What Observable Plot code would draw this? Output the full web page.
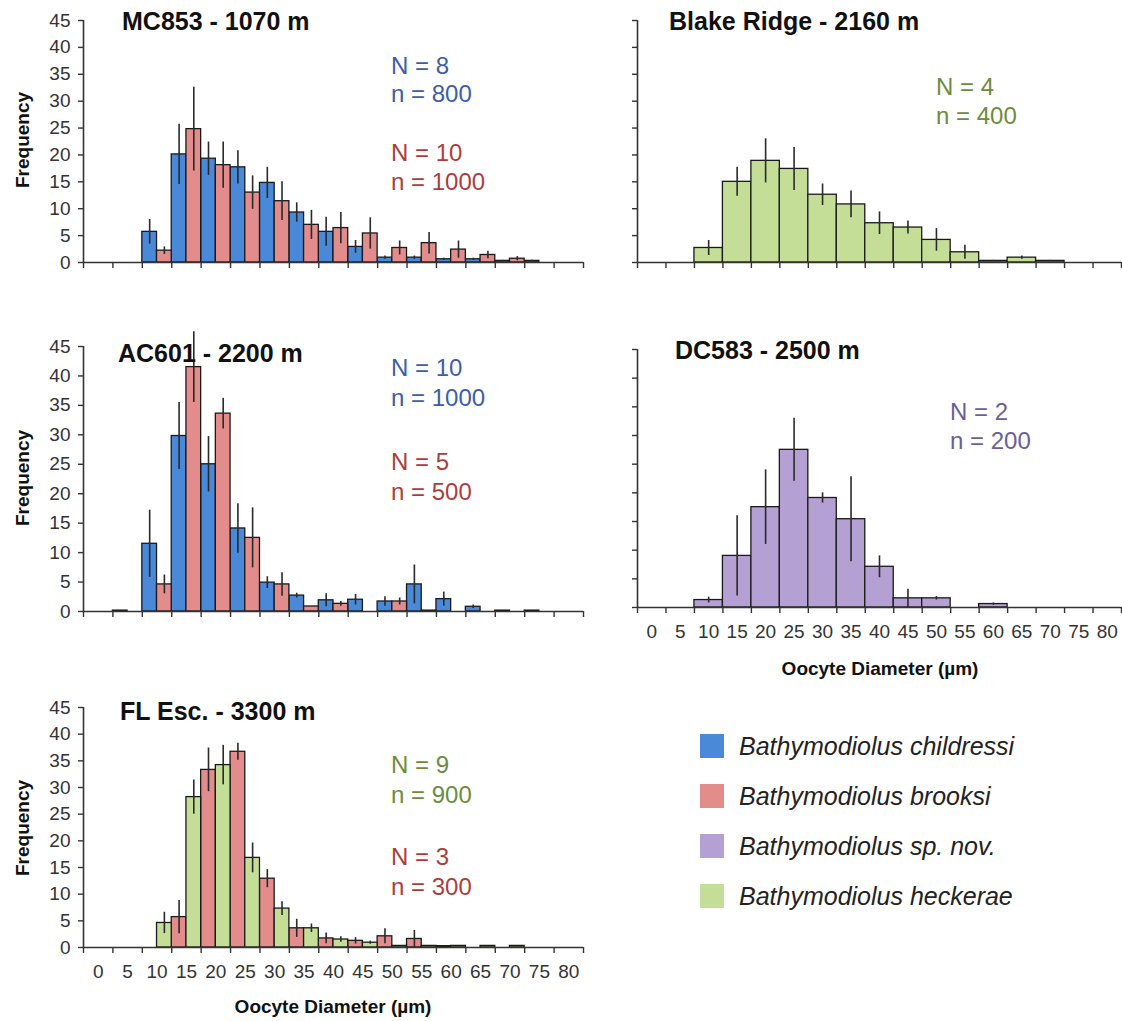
<!DOCTYPE html>
<html><head><meta charset="utf-8">
<script src="https://cdn.jsdelivr.net/npm/d3@7"></script>
<script src="https://cdn.jsdelivr.net/npm/@observablehq/plot@0.6"></script>
<style>
body{margin:0;background:#fff;font-family:Arial,"Liberation Sans",sans-serif;}
#root{position:relative;width:1122px;height:1021px;overflow:hidden;background:#fff;}
.abs{position:absolute;white-space:nowrap;line-height:1;}
.title{font-weight:bold;font-size:25px;color:#111;transform:translateY(-50%);}
.nlab{font-size:24px;transform:translateY(-50%);}
.freq{font-weight:bold;font-size:19px;color:#111;transform:translate(-50%,-50%) rotate(-90deg);}
.xtitle{font-weight:bold;font-size:19px;color:#111;transform:translate(-50%,-50%);}
.leg{font-style:italic;font-size:25px;color:#222;transform:translateY(-50%);}
.sw{position:absolute;width:24px;height:24px;transform:translateY(-50%);}
.panel{position:absolute;}
</style></head><body><div id="root"></div>
<script>
// ---- data ----
const categories = [0,5,10,15,20,25,30,35,40,45,50,55,60,65,70,75,80];
const yTicks = [0,5,10,15,20,25,30,35,40,45];

const mc853_childressi     = [0,0,5.7,20.1,19.3,17.7,14.8,9.3,5.7,2.9,0.9,0.9,0.6,0.6,0.3,0.3,0];
const mc853_childressi_err = [0,0,2.3,5.6,3.1,3.1,2.9,1.8,2.7,1.2,0.3,0.3,0.2,0.2,0.1,0.1,0];
const mc853_brooksi        = [0,0,2.2,24.8,18.1,13.0,11.4,7.0,6.4,5.4,2.7,3.6,2.4,1.4,0.7,0,0];
const mc853_brooksi_err    = [0,0,0.7,7.8,4.3,3.1,3.6,2.7,2.9,2.9,1.3,2.0,1.6,0.7,0.4,0,0];

const blake_heckerae       = [0,0,2.7,15.0,18.9,17.4,12.6,10.8,7.3,6.5,4.2,1.9,0.3,0.9,0.3,0,0];
const blake_heckerae_err   = [0,0,1.4,2.7,4.1,4.0,2.0,2.5,2.1,1.2,2.1,1.3,0.1,0.3,0.1,0,0];

const ac601_childressi     = [0,0.15,11.5,29.8,25.0,14.1,4.9,2.7,1.9,2.0,1.7,4.6,2.1,0.8,0.15,0.15,0];
const ac601_childressi_err = [0,0,5.7,5.7,4.7,4.2,1.0,0.4,1.1,0.9,0.8,3.3,1.2,0.3,0,0,0];
const ac601_brooksi        = [0,0,4.6,41.5,33.6,12.5,4.6,0.85,1.3,0,1.7,0.15,0,0,0,0,0];
const ac601_brooksi_err    = [0,0,1.6,6.0,2.6,5.1,2.0,0,0.4,0,0.6,0,0,0,0,0,0];

const dc583_spnov          = [0,0,1.3,9.0,17.5,27.5,19.1,15.4,7.1,1.6,1.6,0,0.6,0,0,0,0];
const dc583_spnov_err      = [0,0,0.5,7.0,6.5,5.5,0.9,7.4,1.9,1.6,0.3,0,0.2,0,0,0,0];

const fl_brooksi           = [0,0,0,5.7,33.3,36.7,12.9,3.6,1.7,1.25,2.1,1.6,0.25,0,0,0,0];
const fl_brooksi_err       = [0,0,0,3.1,4.1,1.6,1.7,1.7,1.0,0.6,1.4,1.6,0,0,0,0,0];
const fl_heckerae          = [0,0,4.6,28.2,34.2,16.8,7.3,3.6,1.5,0.9,0.3,0.3,0.3,0.3,0.3,0,0];
const fl_heckerae_err      = [0,0,2.0,3.2,3.7,2.8,1.3,0.8,0.5,0.3,0,0,0,0,0,0,0];

const speciesNames = ["Bathymodiolus childressi","Bathymodiolus brooksi","Bathymodiolus sp. nov.","Bathymodiolus heckerae"];
const speciesColors = ["#4a88d8","#e28c8c","#b4a0d2","#c4de98"];
const xTitle = "Oocyte Diameter (µm)";
const yTitle = "Frequency";

// ---- drawing ----
const root = document.getElementById("root");

function panel(o) {
  const marks = [];
  o.series.forEach(s => {
    const rows = [];
    categories.forEach((c, i) => {
      const v = s.values[i];
      if (v > 0) {
        const x1 = s.half === "right" ? c : c - 2.5;
        const x2 = s.half === "left" ? c : c + 2.5;
        rows.push({c, v, e: s.errors[i], x1, x2});
      }
    });
    marks.push(Plot.rectY(rows, {x1: "x1", x2: "x2", y1: () => 0, y2: "v", fill: s.color, stroke: "#1a1a1a", strokeWidth: 1.3}));
    marks.push(Plot.ruleX(rows.filter(d => d.e > 0), {x: d => (d.x1 + d.x2) / 2, y1: d => d.v - d.e, y2: d => d.v + d.e, stroke: "#2a2a2a", strokeWidth: 1.6}));
  });
  const bounds = categories.map(c => c - 2.5).concat([categories[categories.length - 1] + 2.5]);
  marks.push(Plot.ruleY([0], {stroke: "#333", strokeWidth: 1.6}));
  marks.push(Plot.ruleX([bounds[0]], {y1: 0, y2: 45, stroke: "#333", strokeWidth: 1.6}));
  marks.push(Plot.axisY({ticks: yTicks, label: null, tickSize: 5, tickPadding: 8, tickFormat: o.yLabels ? (d => d) : (() => ""), fontSize: 19, fill: "#333", stroke: "#333", strokeWidth: 1.4}));
  marks.push(Plot.axisX({ticks: bounds, label: null, tickSize: 6, tickFormat: () => "", stroke: "#333", strokeWidth: 1.4}));
  if (o.xLabels) marks.push(Plot.axisX({ticks: categories, label: null, tickSize: 0, tickPadding: 17, fontSize: 19, fill: "#333"}));
  const marginTop = o.y45 - o.top;
  const svg = Plot.plot({
    width: o.width, height: (o.y0 - o.top) + o.mBottom,
    marginLeft: o.mLeft, marginRight: o.mRight, marginTop, marginBottom: o.mBottom,
    x: {domain: [bounds[0], bounds[bounds.length - 1]], axis: null, label: null},
    y: {domain: [0, 45], axis: null, label: null},
    style: {background: "transparent", fontFamily: "Arial, 'Liberation Sans', sans-serif", color: "#333", overflow: "visible"},
    marks
  });
  const d = document.createElement("div");
  d.className = "panel";
  d.style.left = o.left + "px"; d.style.top = o.top + "px";
  d.appendChild(svg);
  root.appendChild(d);
}

function text(x, y, str, cls, color) {
  const d = document.createElement("div");
  d.className = "abs " + cls;
  d.style.left = x + "px"; d.style.top = y + "px";
  if (color) d.style.color = color;
  d.textContent = str;
  root.appendChild(d);
}

const L = {left: 0, width: 600, mLeft: 83, mRight: 17};
const R = {left: 580, width: 542, mLeft: 57, mRight: 1};

panel({...L, top: 0, y45: 20, y0: 262, mBottom: 12, yLabels: true, xLabels: false, series: [
  {values: mc853_childressi, errors: mc853_childressi_err, color: speciesColors[0], half: "left"},
  {values: mc853_brooksi, errors: mc853_brooksi_err, color: speciesColors[1], half: "right"}]});
panel({...R, top: 0, y45: 20, y0: 262, mBottom: 12, yLabels: false, xLabels: false, series: [
  {values: blake_heckerae, errors: blake_heckerae_err, color: speciesColors[3], half: "full"}]});
panel({...L, top: 320, y45: 346, y0: 611, mBottom: 12, yLabels: true, xLabels: false, series: [
  {values: ac601_childressi, errors: ac601_childressi_err, color: speciesColors[0], half: "left"},
  {values: ac601_brooksi, errors: ac601_brooksi_err, color: speciesColors[1], half: "right"}]});
panel({...R, top: 320, y45: 349, y0: 607, mBottom: 45, yLabels: false, xLabels: true, series: [
  {values: dc583_spnov, errors: dc583_spnov_err, color: speciesColors[2], half: "full"}]});
panel({...L, top: 690, y45: 707, y0: 947, mBottom: 45, yLabels: true, xLabels: true, series: [
  {values: fl_brooksi, errors: fl_brooksi_err, color: speciesColors[1], half: "left"},
  {values: fl_heckerae, errors: fl_heckerae_err, color: speciesColors[3], half: "right"}]});

// titles
text(122, 21, "MC853 - 1070 m", "title");
text(669, 21, "Blake Ridge - 2160 m", "title");
text(118, 353, "AC601 - 2200 m", "title");
text(675, 350, "DC583 - 2500 m", "title");
text(120, 711, "FL Esc. - 3300 m", "title");

// sample sizes
const cBlue = "#3c5ea8", cRed = "#ad3d3d", cGreen = "#6d8c3c", cPurple = "#6c5e98";
text(391, 66, "N = 8", "nlab", cBlue);
text(391, 94, "n = 800", "nlab", cBlue);
text(391, 153, "N = 10", "nlab", cRed);
text(391, 182, "n = 1000", "nlab", cRed);
text(936, 87, "N = 4", "nlab", cGreen);
text(936, 116, "n = 400", "nlab", cGreen);
text(391, 368, "N = 10", "nlab", cBlue);
text(391, 398, "n = 1000", "nlab", cBlue);
text(391, 462, "N = 5", "nlab", cRed);
text(391, 492, "n = 500", "nlab", cRed);
text(950, 412, "N = 2", "nlab", cPurple);
text(950, 441, "n = 200", "nlab", cPurple);
text(391, 765, "N = 9", "nlab", cGreen);
text(391, 795, "n = 900", "nlab", cGreen);
text(391, 857, "N = 3", "nlab", cRed);
text(391, 887, "n = 300", "nlab", cRed);

// axis titles
text(22, 140, yTitle, "freq");
text(22, 478, yTitle, "freq");
text(22, 828, yTitle, "freq");
text(880, 668, xTitle, "xtitle");
text(333, 1006, xTitle, "xtitle");

// legend
speciesNames.forEach((name, i) => {
  const y = 746 + i * 50;
  const s = document.createElement("div");
  s.className = "sw";
  s.style.left = "700px"; s.style.top = y + "px"; s.style.background = speciesColors[i];
  root.appendChild(s);
  text(739, y, name, "leg");
});
</script>
</body></html>
